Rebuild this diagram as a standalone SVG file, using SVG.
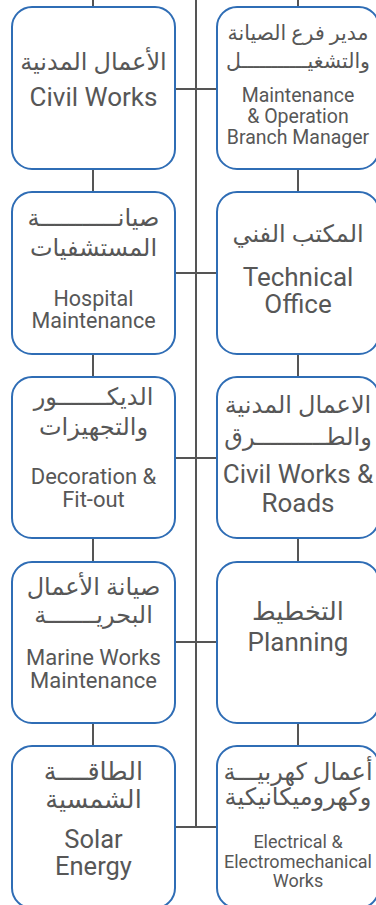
<svg xmlns="http://www.w3.org/2000/svg" width="376" height="905" viewBox="0 0 376 905">
<style>
.box{fill:#fff;stroke:#2f6db5;stroke-width:2}
.con{stroke:#555;stroke-width:2;fill:none}
text{font-family:Roboto,"DejaVu Sans",sans-serif;fill:#575757;text-anchor:middle}
.ar{font-size:24px}
.ar2{font-size:25.5px}
.ar1{font-size:20.5px}
</style>
<rect width="376" height="905" fill="#fff"/>
<g id="connectors" class="con">
<path d="M196 0V827"/>
<path d="M93 0V7M93 169V192M93 354V377M93 538V562M93 723V746"/>
<path d="M298 0V7M298 169V192M298 354V377M298 538V562M298 723V746"/>
<path d="M175 89H217M175 273H217M175 458H217M175 642H217M175 827H217"/>
</g>
<g id="civil-works">
<rect class="box" x="12" y="7" width="163" height="162" rx="20"/>
<text class="ar" x="93.5" y="70">الأعمال المدنية</text>
<text x="93.5" y="106" font-size="26">Civil Works</text>
</g>
<g id="maintenance-manager">
<rect class="box" x="217" y="7" width="162" height="162" rx="20"/>
<text class="ar1" x="298" y="40">مدير فرع الصيانة</text>
<text class="ar1" x="298" y="68">والتشغيـــــــــــل</text>
<text x="298" y="102" font-size="19.5">Maintenance</text>
<text x="298" y="123" font-size="19.5">&amp; Operation</text>
<text x="298" y="144" font-size="19.5">Branch Manager</text>
</g>
<g id="hospital-maintenance">
<rect class="box" x="12" y="192" width="163" height="162" rx="20"/>
<text class="ar" x="93.5" y="226">صيانـــــــــــة</text>
<text class="ar" x="93.5" y="256">المستشفيات</text>
<text x="93.5" y="306" font-size="21.5">Hospital</text>
<text x="93.5" y="328" font-size="21.5">Maintenance</text>
</g>
<g id="technical-office">
<rect class="box" x="217" y="192" width="162" height="162" rx="20"/>
<text class="ar" x="298" y="242" font-size="25">المكتب الفني</text>
<text x="298" y="286" font-size="26">Technical</text>
<text x="298" y="313" font-size="26">Office</text>
</g>
<g id="decoration">
<rect class="box" x="12" y="377" width="163" height="161" rx="20"/>
<text class="ar" x="93.5" y="405">الديكـــــــور</text>
<text class="ar" x="93.5" y="435">والتجهيزات</text>
<text x="93.5" y="484" font-size="22">Decoration &amp;</text>
<text x="93.5" y="507" font-size="22">Fit-out</text>
</g>
<g id="civil-roads">
<rect class="box" x="217" y="377" width="162" height="161" rx="20"/>
<text class="ar" x="298" y="413">الاعمال المدنية</text>
<text class="ar" x="298" y="445">والطــــــــــرق</text>
<text x="298" y="483" font-size="26">Civil Works &amp;</text>
<text x="298" y="512" font-size="26">Roads</text>
</g>
<g id="marine-works">
<rect class="box" x="12" y="562" width="163" height="161" rx="20"/>
<text class="ar" x="93.5" y="595">صيانة الأعمال</text>
<text class="ar" x="93.5" y="623">البحريـــــــة</text>
<text x="93.5" y="665" font-size="22">Marine Works</text>
<text x="93.5" y="688" font-size="22">Maintenance</text>
</g>
<g id="planning">
<rect class="box" x="217" y="562" width="162" height="161" rx="20"/>
<text class="ar2" x="298" y="620">التخطيط</text>
<text x="298" y="651" font-size="26">Planning</text>
</g>
<g id="solar-energy">
<rect class="box" x="12" y="746" width="163" height="162" rx="20"/>
<text class="ar2" x="93.5" y="780">الطاقــــة</text>
<text class="ar2" x="93.5" y="808">الشمسية</text>
<text x="93.5" y="848" font-size="25.5">Solar</text>
<text x="93.5" y="875" font-size="25.5">Energy</text>
</g>
<g id="electrical">
<rect class="box" x="217" y="746" width="162" height="162" rx="20"/>
<text class="ar" x="298" y="780">أعمال كهربيـــة</text>
<text class="ar" x="298" y="805">وكهروميكانيكية</text>
<text x="298" y="848" font-size="18">Electrical &amp;</text>
<text x="298" y="868" font-size="18">Electromechanical</text>
<text x="298" y="887" font-size="18">Works</text>
</g>
</svg>
